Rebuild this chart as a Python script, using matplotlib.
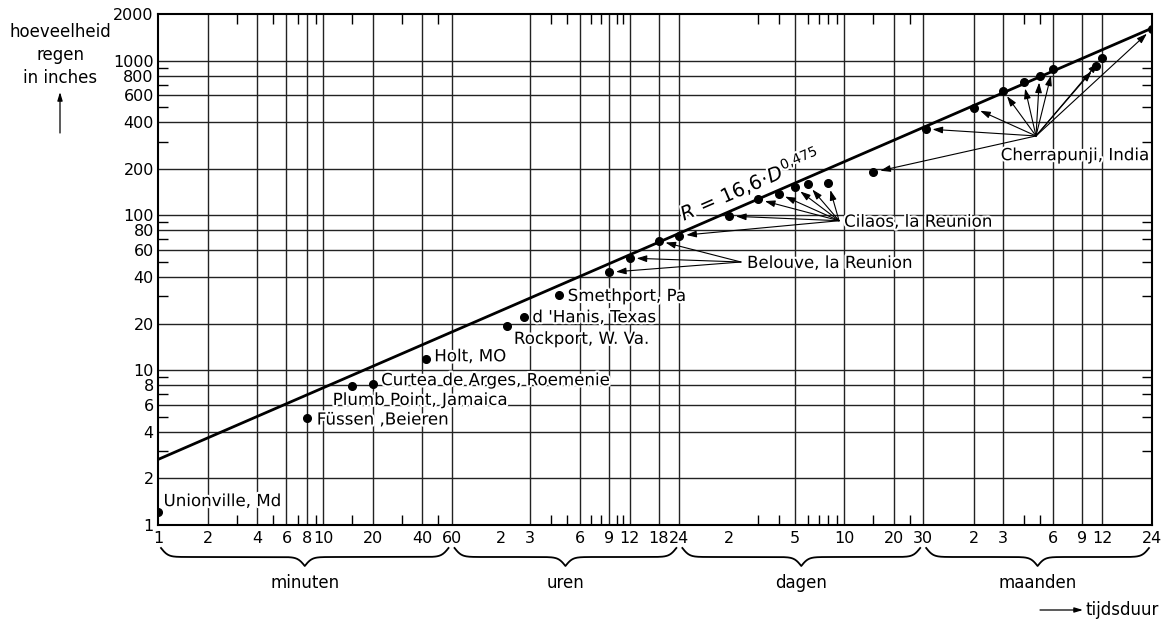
import numpy as np
import matplotlib
import matplotlib.pyplot as plt
import matplotlib.patheffects as pe
from matplotlib.lines import Line2D

matplotlib.use('Agg')

# tijdsduur in minuten
HOUR = 60
DAY = 24 * HOUR
MONTH = 365 * DAY / 12

# losse records
single_names = ['Unionville, Md', 'Füssen ,Beieren', 'Plumb Point, Jamaica',
                'Curtea de Arges, Roemenie', 'Holt, MO', 'Rockport, W. Va.',
                "d 'Hanis, Texas", 'Smethport, Pa']
single_minutes = [1, 8, 15, 20, 42, 130, 165, 270]
single_rain = [1.21, 4.9, 7.9, 8.1, 11.8, 19.2, 22.0, 30.8]

# Belouve, la Reunion
belouve_hours = [9, 12, 18]
belouve_rain = [42.9, 53.0, 68.5]

# Cilaos, la Reunion
cilaos_days = [1, 2, 3, 4, 5, 6, 8]
cilaos_rain = [74, 99, 127, 138, 152, 159, 161]

# Cherrapunji, India
cherra_days = [15, 31]
cherra_days_rain = [190, 362]
cherra_months = [2, 3, 4, 5, 6, 11, 12, 24]
cherra_months_rain = [495, 640, 730, 800, 886, 920, 1045, 1600]

fit_minutes = [1, 24 * MONTH]
fit_rain = [2.65, 1620]

# as-indeling
x_label_minutes = [1, 2, 4, 6, 8, 10, 20, 40, 60]
x_label_hours = [2, 3, 6, 9, 12, 18, 24]
x_label_days = [2, 5, 10, 20, 30]
x_label_months = [2, 3, 6, 9, 12, 24]

x_grid_minutes = [2, 4, 6, 8, 10, 20, 40, 60]
x_grid_hours = [3, 6, 9, 12, 18, 24]
x_grid_days = [5, 10, 20, 30]
x_grid_months = [2, 3, 6, 9, 12]

x_minor_minutes = [3, 5, 7, 9, 15, 30, 50]
x_minor_hours = [2, 4, 5, 7, 8, 10, 11]
x_minor_days = [2, 3, 4, 6, 7, 8, 9, 15, 25]
x_minor_months = [4, 5]

y_labels = [1, 2, 4, 6, 8, 10, 20, 40, 60, 80, 100, 200, 400, 600, 800, 1000, 2000]
y_minor = [3, 5, 7, 9, 30, 50, 70, 90, 300, 500, 700, 900]

groups = ['minuten', 'uren', 'dagen', 'maanden']
group_bounds = [1, 60, DAY, 30 * DAY, 24 * MONTH]

W, H = 1172, 621
fig = plt.figure(figsize=(W / 100, H / 100), dpi=100)
ax = fig.add_axes([158 / W, 1 - 525 / H, (1152 - 158) / W, (525 - 14) / H])
ax.set_xscale('log')
ax.set_yscale('log')
ax.set_xlim(1, 24 * MONTH)
ax.set_ylim(1, 2000)

halo = [pe.withStroke(linewidth=3, foreground='white')]

# ticks
x_label_pos = (x_label_minutes + [h * HOUR for h in x_label_hours]
               + [d * DAY for d in x_label_days] + [m * MONTH for m in x_label_months])
x_label_txt = ([str(v) for v in x_label_minutes] + [str(v) for v in x_label_hours]
               + [str(v) for v in x_label_days] + [str(v) for v in x_label_months])
ax.set_xticks(x_label_pos)
ax.set_xticklabels(x_label_txt)
ax.xaxis.set_minor_locator(matplotlib.ticker.FixedLocator(
    x_minor_minutes + [h * HOUR for h in x_minor_hours]
    + [d * DAY for d in x_minor_days] + [m * MONTH for m in x_minor_months]))
ax.xaxis.set_minor_formatter(matplotlib.ticker.NullFormatter())

ax.set_yticks(y_labels)
ax.set_yticklabels([str(v) for v in y_labels])
ax.yaxis.set_minor_locator(matplotlib.ticker.FixedLocator(y_minor))
ax.yaxis.set_minor_formatter(matplotlib.ticker.NullFormatter())

ax.tick_params(which='major', length=0, labelsize=11.5)
ax.tick_params(axis='x', which='major', pad=4)
ax.tick_params(axis='y', which='major', pad=3)
ax.tick_params(which='minor', direction='in', length=7, width=1.0,
               top=True, bottom=True, left=True, right=True)
for s in ax.spines.values():
    s.set_linewidth(1.5)

# rasterlijnen
x_grid = (x_grid_minutes + [h * HOUR for h in x_grid_hours]
          + [d * DAY for d in x_grid_days] + [m * MONTH for m in x_grid_months])
for v in x_grid:
    ax.axvline(v, color='#222222', lw=1.0, zorder=1)
for v in y_labels[1:-1]:
    ax.axhline(v, color='#222222', lw=1.0, zorder=1)

# lijn en punten
ax.plot(fit_minutes, fit_rain, color='black', lw=2.0, zorder=3)

belouve_x = [h * HOUR for h in belouve_hours]
cilaos_x = [d * DAY for d in cilaos_days]
cherra_x = [d * DAY for d in cherra_days] + [m * MONTH for m in cherra_months]
cherra_y = cherra_days_rain + cherra_months_rain

for xs, ys in [(single_minutes, single_rain), (belouve_x, belouve_rain),
               (cilaos_x, cilaos_rain), (cherra_x, cherra_y)]:
    ax.plot(xs, ys, 'o', color='black', ms=5.5, zorder=4)

# labels bij losse records (offset in punten)
offsets = [(4, 8), (7, -1), (-14, -10), (6, 3), (6, 2), (5, -9), (6, 0), (6, -1)]
for name, xv, yv, off in zip(single_names, single_minutes, single_rain, offsets):
    ax.annotate(name, xy=(xv, yv), xytext=off, textcoords='offset points',
                ha='left', va='center', fontsize=12, path_effects=halo, zorder=5)

arrow_kw = dict(arrowstyle='-|>,head_length=0.6,head_width=0.2', color='black',
                lw=0.8, shrinkA=0, shrinkB=5)


def group_arrows(xs, ys, origin, label, label_pos):
    for xv, yv in zip(xs, ys):
        ax.annotate('', xy=(xv, yv), xytext=origin, arrowprops=arrow_kw, zorder=4)
    ax.text(label_pos[0], label_pos[1], label, ha='left', va='center',
            fontsize=12, path_effects=halo, zorder=5)


group_arrows(belouve_x, belouve_rain, (3400, 50), 'Belouve, la Reunion', (3700, 49.3))
group_arrows(cilaos_x, cilaos_rain, (13360, 92.4), 'Cilaos, la Reunion', (14330, 91))
group_arrows(cherra_x, cherra_y, (208400, 326), 'Cherrapunji, India', (127400, 245))

ax.text(3860, 160, r'$R\,=\,16{,}6\!\cdot\! D^{0{,}475}$', fontsize=14,
        rotation=23.5, rotation_mode='anchor', ha='center', va='center',
        path_effects=halo, zorder=5)

# as-titels
fig.text(60 / W, 1 - 55 / H, 'hoeveelheid\nregen\nin inches', ha='center',
         va='center', fontsize=12, linespacing=1.35)
ax.annotate('', xy=(60 / W, 1 - 92 / H), xytext=(60 / W, 1 - 133 / H),
            xycoords='figure fraction', textcoords='figure fraction',
            arrowprops=dict(arrowstyle='-|>,head_length=0.5,head_width=0.15',
                            color='black', lw=0.9, shrinkA=0, shrinkB=0))
ax.annotate('', xy=(1083 / W, 1 - 610 / H), xytext=(1040 / W, 1 - 610 / H),
            xycoords='figure fraction', textcoords='figure fraction',
            arrowprops=dict(arrowstyle='-|>,head_length=0.5,head_width=0.15',
                            color='black', lw=0.9, shrinkA=0, shrinkB=0))
fig.text(1086 / W, 1 - 610 / H, 'tijdsduur', ha='left', va='center', fontsize=12)


# accolades onder de as
def brace(x0, x1, ytop, depth):
    n = 301
    xs = np.linspace(x0, x1, n)
    half = xs[:n // 2 + 1]
    beta = 0.28
    yh = (1 / (1 + np.exp(-beta * (half - half[0])))
          + 1 / (1 + np.exp(-beta * (half - half[-1]))))
    ys = np.concatenate([yh, yh[-2::-1]])
    yy = ytop - (ys - 0.5) * depth
    fig.add_artist(Line2D(xs / W, yy / H, transform=fig.transFigure,
                          color='black', lw=1.3))


for name, b0, b1 in zip(groups, group_bounds[:-1], group_bounds[1:]):
    p0 = ax.transData.transform((b0, 1))[0] + 3
    p1 = ax.transData.transform((b1, 1))[0] - 3
    brace(p0, p1, H - 548, 18)
    fig.text((p0 + p1) / 2 / W, 1 - 583 / H, name, ha='center', va='center', fontsize=12)

fig.savefig('out.png', dpi=100)
plt.close(fig)
